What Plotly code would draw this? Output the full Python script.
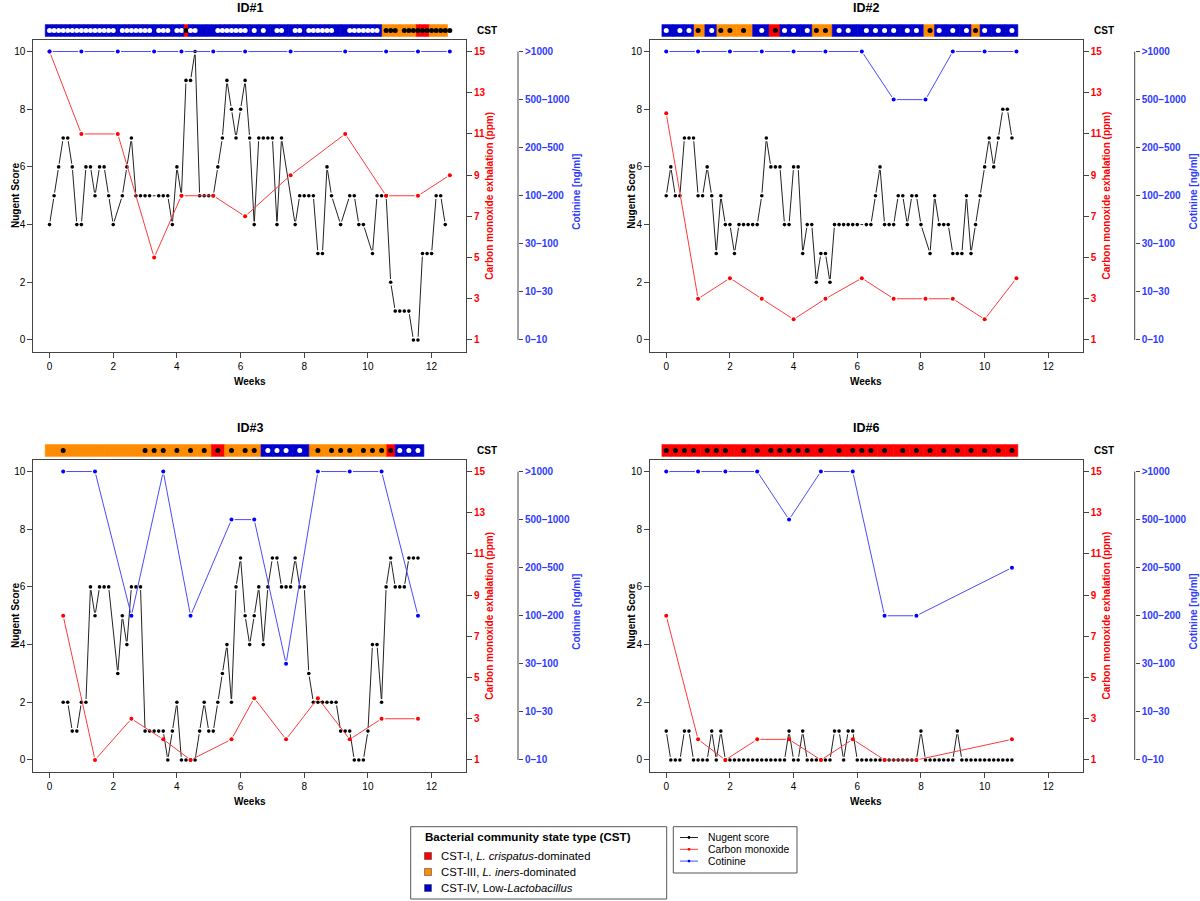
import math
import plotly.graph_objects as go

# ---------------- data (days since enrolment) ----------------
id1_nugent_day = [0, 1, 2, 3, 4, 5, 6, 7, 8, 9, 10, 11, 12, 13, 14, 16, 17, 18, 19, 20, 21, 22,
                  24, 25, 26, 27, 28, 29, 30, 31, 32, 33, 34, 35, 36, 37, 38, 39, 40, 41, 42, 43,
                  44, 45, 46, 47, 48, 49, 50, 51, 54, 55, 56, 57, 58, 59, 60, 61, 62, 64, 66, 67,
                  68, 69, 71, 72, 73, 74, 75, 76, 77, 78, 79, 80, 81, 82, 83, 84, 85, 86, 87]
id1_nugent_score = [4, 5, 6, 7, 7, 6, 4, 4, 6, 6, 5, 6, 6, 5, 4, 5, 6, 7, 5, 5, 5, 5,
                    5, 5, 5, 4, 6, 5, 9, 9, 10, 5, 5, 5, 5, 6, 7, 9, 8, 7, 8, 9,
                    7, 4, 7, 7, 7, 7, 4, 7, 4, 5, 5, 5, 5, 3, 3, 6, 5, 4, 5, 5,
                    4, 4, 3, 5, 5, 5, 2, 1, 1, 1, 1, 0, 0, 3, 3, 3, 5, 5, 4]
id1_weekly_day = [0, 7, 15, 23, 29, 36, 43, 53, 65, 74, 81, 88]
id1_co_ppm = [15, 11, 11, 5, 8, 8, 7, 9, 11, 8, 8, 9]
id1_cotinine_level = [6, 6, 6, 6, 6, 6, 6, 6, 6, 6, 6, 6]
id1_cst_day = [0, 1, 2, 3, 4, 5, 6, 7, 8, 9, 10, 11, 12, 13, 14, 16, 17, 18, 19, 20, 21, 22,
               24, 25, 26, 28, 29, 30, 31, 32, 37, 38, 39, 40, 41, 42, 43, 45, 47, 50, 51, 54,
               55, 57, 58, 59, 60, 61, 62, 66, 67, 68, 69, 70, 71, 72, 74, 75, 76, 78, 79, 80,
               81, 82, 83, 84, 85, 86, 87, 88]
id1_cst_type = ["IV"] * 27 + ["I"] + ["IV"] * 28 + ["III"] * 6 + ["I"] * 3 + ["III"] * 4

id2_nugent_day = [0, 1, 2, 3, 4, 5, 6, 7, 8, 9, 10, 11, 12, 13, 14, 15, 16, 17, 18, 19, 20, 21,
                  22, 23, 24, 25, 26, 27, 28, 29, 30, 31, 32, 33, 34, 35, 36, 37, 38, 39, 40, 41,
                  42, 44, 45, 46, 47, 48, 49, 50, 51, 52, 53, 54, 55, 56, 58, 59, 60, 61, 62, 63,
                  64, 65, 66, 67, 68, 69, 70, 71, 72, 73, 74, 75, 76]
id2_nugent_score = [5, 6, 5, 5, 7, 7, 7, 5, 5, 6, 5, 3, 5, 4, 4, 3, 4, 4, 4, 4, 4, 5,
                    7, 6, 6, 6, 4, 4, 6, 6, 3, 4, 4, 2, 3, 3, 2, 4, 4, 4, 4, 4,
                    4, 4, 4, 5, 6, 4, 4, 4, 5, 5, 4, 5, 5, 4, 3, 5, 4, 4, 4, 3,
                    3, 3, 5, 3, 4, 5, 6, 7, 6, 7, 8, 8, 7]
id2_weekly_day = [0, 7, 14, 21, 28, 35, 43, 50, 57, 63, 70, 77]
id2_co_ppm = [12, 3, 4, 3, 2, 3, 4, 3, 3, 3, 2, 4]
id2_cotinine_level = [6, 6, 6, 6, 6, 6, 6, 5, 5, 6, 6, 6]
id2_cst_day = [0, 3, 5, 7, 10, 12, 14, 17, 21, 24, 26, 28, 31, 33, 35, 38, 40, 44, 46, 48,
               50, 53, 55, 58, 60, 63, 66, 68, 70, 73, 76]
id2_cst_type = ["IV", "IV", "IV", "III", "IV", "III", "III", "III", "IV", "I", "IV", "IV", "IV",
                "III", "III", "IV", "IV", "IV", "IV", "IV", "IV", "IV", "IV", "III", "IV", "IV",
                "IV", "III", "IV", "IV", "IV"]

id3_nugent_day = [3, 4, 5, 6, 7, 8, 9, 10, 11, 12, 13, 15, 16, 17, 18, 19, 20, 21, 22, 23, 24,
                  25, 26, 27, 28, 29, 30, 31, 32, 33, 34, 35, 36, 37, 38, 39, 40, 41, 42, 43, 44,
                  45, 46, 47, 48, 49, 50, 51, 52, 53, 54, 55, 56, 57, 58, 59, 60, 61, 62, 63, 64,
                  65, 66, 67, 68, 69, 70, 71, 72, 73, 74, 75, 76, 77, 78, 79, 80, 81]
id3_nugent_score = [2, 2, 1, 1, 2, 2, 6, 5, 6, 6, 6, 3, 5, 4, 6, 6, 6, 1, 1, 1, 1,
                    1, 0, 1, 2, 0, 0, 0, 0, 1, 2, 1, 1, 2, 3, 4, 2, 6, 7, 5, 4,
                    5, 6, 4, 6, 7, 7, 6, 6, 6, 7, 6, 6, 3, 2, 2, 2, 2, 2, 2, 1,
                    1, 1, 0, 0, 0, 1, 4, 4, 2, 6, 7, 6, 6, 6, 7, 7, 7]
id3_weekly_day = [3, 10, 18, 25, 31, 40, 45, 52, 59, 66, 73, 81]
id3_co_ppm = [8, 1, 3, 2, 1, 2, 4, 2, 4, 2, 3, 3]
id3_cotinine_level = [6, 6, 3, 6, 3, 5, 5, 2, 6, 6, 6, 3]
id3_cst_day = [3, 21, 23, 25, 28, 31, 34, 37, 40, 43, 45, 48, 50, 52, 55, 59, 62, 64, 66, 69,
               71, 73, 75, 77, 79, 81]
id3_cst_type = ["III", "III", "III", "III", "III", "III", "III", "I", "III", "III", "III",
                "IV", "IV", "IV", "IV", "III", "III", "III", "III", "III", "III", "III", "I",
                "IV", "IV", "IV"]

id6_nugent_day = [0, 1, 2, 3, 4, 5, 6, 7, 8, 9, 10, 11, 12, 13, 14, 15, 16, 17, 18, 19, 20, 21,
                  22, 23, 24, 25, 26, 27, 28, 29, 30, 31, 32, 33, 34, 35, 36, 37, 38, 39, 40, 41,
                  42, 43, 44, 45, 46, 47, 48, 49, 50, 51, 52, 53, 54, 55, 56, 57, 58, 59, 60, 61,
                  62, 63, 64, 65, 66, 67, 68, 69, 70, 71, 72, 73, 74, 75, 76]
id6_nugent_score = [1, 0, 0, 0, 1, 1, 0, 0, 0, 0, 1, 0, 1, 0, 0, 0, 0, 0, 0, 0, 0, 0,
                    0, 0, 0, 0, 0, 1, 0, 0, 1, 0, 0, 0, 0, 0, 0, 1, 1, 0, 1, 1,
                    0, 0, 0, 0, 0, 0, 0, 0, 0, 0, 0, 0, 0, 0, 1, 0, 0, 0, 0, 0,
                    0, 0, 1, 0, 0, 0, 0, 0, 0, 0, 0, 0, 0, 0, 0]
id6_weekly_day = [0, 7, 13, 20, 27, 34, 41, 48, 55, 76]
id6_co_ppm = [8, 2, 1, 2, 2, 1, 2, 1, 1, 2]
id6_cotinine_level = [6, 6, 6, 6, 5, 6, 6, 3, 3, 4]
id6_cst_day = [0, 2, 4, 6, 9, 11, 13, 17, 20, 23, 25, 27, 29, 31, 34, 38, 41, 43, 45, 48, 52,
               55, 58, 61, 64, 67, 70, 73, 76]
id6_cst_type = ["I"] * 29

panel_titles = ["ID#1", "ID#2", "ID#3", "ID#6"]
x_ticks = [0, 2, 4, 6, 8, 10, 12]
nugent_ticks = [0, 2, 4, 6, 8, 10]
co_ticks = [1, 3, 5, 7, 9, 11, 13, 15]
cotinine_labels = ["0\u201310", "10\u201330", "30\u2013100", "100\u2013200", "200\u2013500",
                   "500\u20131000", ">1000"]
cst_names = ["I", "III", "IV"]
cst_legend = ["CST-I, <i>L. crispatus</i>-dominated", "CST-III, <i>L. iners</i>-dominated",
              "CST-IV, Low-<i>Lactobacillus</i>"]
series_legend = ["Nugent score", "Carbon monoxide", "Cotinine"]

panels = [
    (id1_nugent_day, id1_nugent_score, id1_weekly_day, id1_co_ppm, id1_cotinine_level, id1_cst_day, id1_cst_type),
    (id2_nugent_day, id2_nugent_score, id2_weekly_day, id2_co_ppm, id2_cotinine_level, id2_cst_day, id2_cst_type),
    (id3_nugent_day, id3_nugent_score, id3_weekly_day, id3_co_ppm, id3_cotinine_level, id3_cst_day, id3_cst_type),
    (id6_nugent_day, id6_nugent_score, id6_weekly_day, id6_co_ppm, id6_cotinine_level, id6_cst_day, id6_cst_type),
]

# ---------------- layout / style ----------------
OFF = 0
FIG_W, FIG_H = 1200, 901
FRAMES = [(33.3, 466.0, 40.0, 351.5), (650.0, 1082.7, 40.0, 351.5),
          (33.3, 466.0, 460.0, 771.5), (650.0, 1082.7, 460.0, 771.5)]
XR = [-0.51, 13.08]
YR = [-0.4, 10.4]
COR = [0.44, 15.56]
COTR = [-0.24, 6.24]
CST_COL = {"I": "#FF0000", "III": "#FF8C00", "IV": "#0000CD"}
DOT_COL = {"I": "black", "III": "black", "IV": "white"}
NUG_LINE, NUG_PT = "#222222", "black"
CO_LINE, CO_PT = "#FF3A3A", "#FF0000"
COT_LINE, COT_PT = "#4A4AFF", "#0000FF"
COT_TXT = "#2E3BFF"
AX = "#444444"
FONT = "Liberation Sans, Arial, Helvetica, sans-serif"
GAP = 3.2  # px gap around points (R type="b")
BAR_START_DAY = -0.95
BAR_END_PAD = 1.3


def fx(px):
    return (px - OFF) / FIG_W


def fy(py):
    return 1 - (py - OFF) / FIG_H


def yname(i):
    return "y" if i == 1 else f"y{i}"


def ykey(i):
    return "yaxis" if i == 1 else f"yaxis{i}"


def gapped(xs, ys, kx, ky):
    gx, gy = [], []
    for i in range(len(xs) - 1):
        dx = (xs[i + 1] - xs[i]) * kx
        dy = (ys[i + 1] - ys[i]) * ky
        L = math.hypot(dx, dy)
        if L <= 2 * GAP + 0.5:
            continue
        f = GAP / L
        gx += [xs[i] + (xs[i + 1] - xs[i]) * f, xs[i + 1] - (xs[i + 1] - xs[i]) * f, None]
        gy += [ys[i] + (ys[i + 1] - ys[i]) * f, ys[i + 1] - (ys[i + 1] - ys[i]) * f, None]
    return gx, gy


def ann(text, px, py, size, color="black", angle=0, xanchor="center"):
    return dict(text=text, x=fx(px), y=fy(py), xref="paper", yref="paper", showarrow=False,
                xanchor=xanchor, yanchor="middle", textangle=angle,
                font=dict(size=size, color=color, family=FONT))


fig = go.Figure()
layout = dict(width=FIG_W, height=FIG_H, margin=dict(l=0, r=0, t=0, b=0),
              paper_bgcolor="white", plot_bgcolor="white", showlegend=False,
              barmode="overlay", font=dict(family=FONT, color="black"))
annotations, shapes = [], []

for k, (pdata, fr) in enumerate(zip(panels, FRAMES), start=1):
    nd, ns, wd, co, cot, sd, st = pdata
    l, r, t, b = fr
    xn = "x" if k == 1 else f"x{k}"
    xkey = "xaxis" if k == 1 else f"xaxis{k}"
    iN, iC, iT, iB = k, 4 + k, 8 + k, 12 + k
    kx = (r - l) / (XR[1] - XR[0])

    layout[xkey] = dict(domain=[fx(l), fx(r)], range=XR, anchor=yname(iN), tickvals=x_ticks,
                        ticks="outside", ticklen=5, tickcolor=AX, showline=True, mirror=True,
                        linecolor=AX, linewidth=1, showgrid=False, zeroline=False,
                        tickfont=dict(size=10, family=FONT))
    layout[ykey(iN)] = dict(domain=[fy(b), fy(t)], range=YR, anchor=xn, tickvals=nugent_ticks,
                            ticks="outside", ticklen=5, tickcolor=AX, showline=True, mirror=True,
                            linecolor=AX, linewidth=1, showgrid=False, zeroline=False,
                            tickfont=dict(size=10, family=FONT))
    layout[ykey(iC)] = dict(domain=[fy(b), fy(t)], range=COR, anchor=xn, overlaying=yname(iN),
                            side="right", tickvals=co_ticks, ticks="outside", ticklen=5,
                            tickcolor=AX, showline=True, linecolor=AX, showgrid=False,
                            zeroline=False,
                            tickfont=dict(size=10, color="#FF0000", weight="bold", family=FONT))
    layout[ykey(iT)] = dict(domain=[fy(b), fy(t)], range=COTR, anchor="free",
                            position=fx(r + 52), overlaying=yname(iN), side="right",
                            tickvals=list(range(7)), ticktext=cotinine_labels, ticks="outside",
                            ticklen=4, tickcolor=AX, showline=False, showgrid=False,
                            zeroline=False,
                            tickfont=dict(size=10, color=COT_TXT, weight="bold", family=FONT))
    layout[ykey(iB)] = dict(domain=[fy(t - 3.3), fy(t - 15.7)], range=[-0.5, 0.5], anchor=xn,
                            visible=False, fixedrange=True)
    shapes.append(dict(type="line", xref="paper", yref=yname(iT), x0=fx(r + 52), x1=fx(r + 52),
                       y0=0, y1=6, line=dict(color=AX, width=1)))

    # --- CST bar ---
    sw = [d / 7 for d in sd]
    start_w = BAR_START_DAY / 7
    end_w = (sd[-1] + BAR_END_PAD) / 7
    lefts = [start_w] + [(sw[i - 1] + sw[i]) / 2 for i in range(1, len(sw))]
    rights = [(sw[i] + sw[i + 1]) / 2 for i in range(len(sw) - 1)] + [end_w]
    for c in cst_names:
        idx = [i for i, s in enumerate(st) if s == c]
        if not idx:
            continue
        fig.add_trace(go.Bar(orientation="h", y=[0] * len(idx),
                             x=[rights[i] - lefts[i] for i in idx], base=[lefts[i] for i in idx],
                             width=1, marker=dict(color=CST_COL[c],
                                                  line=dict(color=CST_COL[c], width=0.6)),
                             xaxis=xn, yaxis=yname(iB), hoverinfo="skip"))
    fig.add_trace(go.Scatter(x=sw, y=[0] * len(sw), mode="markers", xaxis=xn, yaxis=yname(iB),
                             marker=dict(size=5, color=[DOT_COL[s] for s in st], line=dict(width=0)),
                             hoverinfo="skip"))

    # --- Nugent ---
    nw = [d / 7 for d in nd]
    ky = (b - t) / (YR[1] - YR[0])
    gx, gy = gapped(nw, ns, kx, ky)
    fig.add_trace(go.Scatter(x=gx, y=gy, mode="lines", line=dict(color=NUG_LINE, width=1),
                             xaxis=xn, yaxis=yname(iN), hoverinfo="skip"))
    fig.add_trace(go.Scatter(x=nw, y=ns, mode="markers", marker=dict(size=3.6, color=NUG_PT),
                             xaxis=xn, yaxis=yname(iN)))

    # --- Cotinine ---
    ww = [d / 7 for d in wd]
    ky = (b - t) / (COTR[1] - COTR[0])
    gx, gy = gapped(ww, cot, kx, ky)
    fig.add_trace(go.Scatter(x=gx, y=gy, mode="lines", line=dict(color=COT_LINE, width=1),
                             xaxis=xn, yaxis=yname(iT), hoverinfo="skip"))
    fig.add_trace(go.Scatter(x=ww, y=cot, mode="markers", marker=dict(size=4, color=COT_PT),
                             xaxis=xn, yaxis=yname(iT)))

    # --- CO ---
    ky = (b - t) / (COR[1] - COR[0])
    gx, gy = gapped(ww, co, kx, ky)
    fig.add_trace(go.Scatter(x=gx, y=gy, mode="lines", line=dict(color=CO_LINE, width=1),
                             xaxis=xn, yaxis=yname(iC), hoverinfo="skip"))
    fig.add_trace(go.Scatter(x=ww, y=co, mode="markers", marker=dict(size=4, color=CO_PT),
                             xaxis=xn, yaxis=yname(iC)))

    cx = (l + r) / 2
    cy = (t + b) / 2
    annotations += [
        ann(f"<b>{panel_titles[k - 1]}</b>", cx, t - 32, 12.5),
        ann("<b>CST</b>", r + 21, t - 10, 10),
        ann("<b>Nugent Score</b>", l - 18, cy, 10, angle=-90),
        ann("<b>Weeks</b>", cx, b + 29.5, 10),
        ann("<b>Carbon monoxide exhalation (ppm)</b>", r + 24, cy, 10, color="#FF0000", angle=-90),
        ann("<b>Cotinine [ng/ml]</b>", r + 111, cy - 4, 10, color=COT_TXT, angle=-90),
    ]

# ---------------- legends ----------------
shapes.append(dict(type="rect", xref="paper", yref="paper", x0=fx(410.7), x1=fx(666.7),
                   y0=fy(899), y1=fy(826.7), line=dict(color="#555555", width=1)))
annotations.append(ann("<b>Bacterial community state type (CST)</b>", 422.5, 836.5, 11.6,
                       xanchor="left"))
for i, (c, txt) in enumerate(zip(cst_names, cst_legend)):
    yy = 856 + i * 16
    shapes.append(dict(type="rect", xref="paper", yref="paper", x0=fx(424.5), x1=fx(431.5),
                       y0=fy(yy + 3.5), y1=fy(yy - 3.5), fillcolor=CST_COL[c],
                       line=dict(color="#333333", width=0.5)))
    annotations.append(ann(txt, 438.5, yy, 11.3, xanchor="left"))

shapes.append(dict(type="rect", xref="paper", yref="paper", x0=fx(673.3), x1=fx(797),
                   y0=fy(873), y1=fy(826.7), line=dict(color="#555555", width=1)))
for i, (col, pcol, txt) in enumerate(zip([NUG_LINE, CO_LINE, COT_LINE], [NUG_PT, CO_PT, COT_PT],
                                         series_legend)):
    yy = 837.5 + i * 11.8
    shapes.append(dict(type="line", xref="paper", yref="paper", x0=fx(680), x1=fx(698),
                       y0=fy(yy), y1=fy(yy), line=dict(color=col, width=1)))
    shapes.append(dict(type="circle", xref="paper", yref="paper", x0=fx(687.6), x1=fx(690.4),
                       y0=fy(yy + 1.4), y1=fy(yy - 1.4), fillcolor=pcol, line=dict(width=0)))
    annotations.append(ann(txt, 705.5, yy, 10.3, xanchor="left"))

layout["annotations"] = annotations
layout["shapes"] = shapes
fig.update_layout(**layout)
fig.write_html("out.html", config={"displayModeBar": False},
               post_script="document.body.style.margin='0px';")
